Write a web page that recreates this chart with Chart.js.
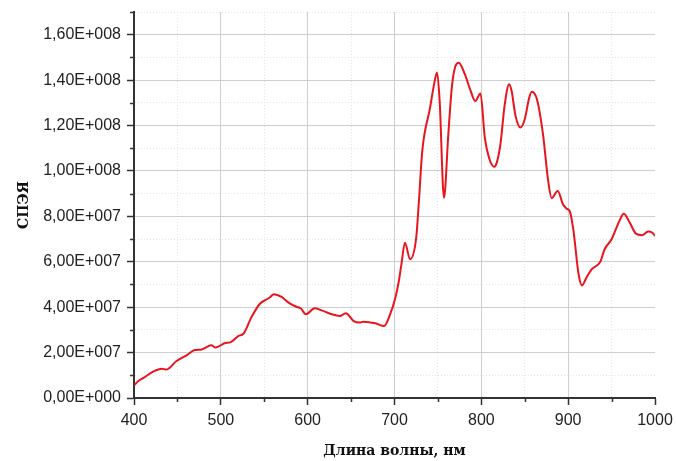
<!DOCTYPE html>
<html>
<head>
<meta charset="utf-8">
<script src="https://cdn.jsdelivr.net/npm/chart.js@4/dist/chart.umd.min.js"></script>
<style>
  html, body { margin: 0; padding: 0; background: #fff; }
  #wrap { width: 676px; height: 461px; }
</style>
</head>
<body>
<div id="wrap"><canvas id="spectrum"></canvas></div>
<script>
// wavelengths (nm)
const wavelengths = [400, 405, 411, 422, 432, 437, 449, 461, 470, 478, 489, 494, 505, 511, 520, 526, 535, 545, 553, 557, 561, 570, 578, 587, 592, 598, 608, 616, 626, 637, 644, 653, 660, 664, 678, 688, 695, 701, 705, 708, 712, 718, 725, 728, 732, 741, 746, 749, 752, 757, 762, 766, 770, 774, 781, 787, 793, 799, 804, 809, 815, 818, 822, 827, 832, 835, 839, 845, 850, 855, 858, 864, 871, 877, 881, 888, 894, 898, 902, 906, 912, 916, 921, 927, 937, 942, 950, 959, 964, 971, 978, 985, 992, 997, 1000];
// СПЭЯ values
const spectrum = [0.55e7, 0.75e7, 0.89e7, 1.16e7, 1.29e7, 1.25e7, 1.63e7, 1.89e7, 2.11e7, 2.14e7, 2.32e7, 2.22e7, 2.42e7, 2.45e7, 2.73e7, 2.83e7, 3.54e7, 4.15e7, 4.35e7, 4.45e7, 4.57e7, 4.45e7, 4.20e7, 4.02e7, 3.95e7, 3.69e7, 3.95e7, 3.86e7, 3.71e7, 3.61e7, 3.73e7, 3.39e7, 3.32e7, 3.36e7, 3.29e7, 3.17e7, 3.69e7, 4.42e7, 5.15e7, 5.90e7, 6.84e7, 6.11e7, 7.06e7, 8.60e7, 10.88e7, 12.79e7, 13.90e7, 14.33e7, 13.08e7, 8.82e7, 11.62e7, 13.67e7, 14.60e7, 14.77e7, 14.26e7, 13.60e7, 13.08e7, 13.41e7, 11.47e7, 10.56e7, 10.18e7, 10.40e7, 11.18e7, 12.94e7, 13.82e7, 13.50e7, 12.50e7, 11.91e7, 12.28e7, 13.20e7, 13.49e7, 13.16e7, 11.62e7, 9.56e7, 8.80e7, 9.12e7, 8.53e7, 8.35e7, 8.21e7, 7.40e7, 5.45e7, 4.96e7, 5.30e7, 5.67e7, 6.00e7, 6.55e7, 6.99e7, 7.80e7, 8.12e7, 7.72e7, 7.24e7, 7.17e7, 7.33e7, 7.28e7, 7.14e7];

const xMin = 400, xMax = 1000, xMajor = 100, xMinor = 50;
const yMin = 0, yMax = 1.7e8, yMajor = 2e7, yMinor = 1e7;

// 1,60E+008 style labels
function sciLabel(v) {
  if (v === 0) return '0,00E+000';
  let e = Math.floor(Math.log10(Math.abs(v)));
  let m = v / Math.pow(10, e);
  if (Math.round(m * 100) >= 1000) { m = m / 10; e++; }
  return m.toFixed(2).replace('.', ',') + 'E+' + String(e).padStart(3, '0');
}

function isMajor(v, step) {
  return Math.abs(v / step - Math.round(v / step)) < 1e-6;
}

// no automatic label padding, the layout padding decides the plot box
function noPad(s) {
  s.paddingLeft = 0;
  s.paddingRight = 0;
  s.paddingTop = 0;
  s.paddingBottom = 0;
}

// short minor tick marks on the axes
const minorTicks = {
  id: 'minorTicks',
  afterDraw(chart) {
    const c = chart.ctx;
    const xs = chart.scales.x, ys = chart.scales.y;
    const area = chart.chartArea;
    c.save();
    c.strokeStyle = '#333';
    c.lineWidth = 1.5;
    c.beginPath();
    for (let v = xMin; v <= xMax; v += xMinor) {
      if (isMajor(v, xMajor)) continue;
      const px = Math.round(xs.getPixelForValue(v)) + 0.5;
      c.moveTo(px, area.bottom);
      c.lineTo(px, area.bottom + 4);
    }
    for (let v = yMin; v <= yMax + 1; v += yMinor) {
      if (isMajor(v, yMajor)) continue;
      const py = Math.round(ys.getPixelForValue(v)) + 0.5;
      c.moveTo(area.left, py);
      c.lineTo(area.left - 4, py);
    }
    c.stroke();
    c.restore();
  }
};

const tickFont = { family: 'Liberation Sans, Arial, sans-serif', size: 16 };
const titleFont = { family: 'DejaVu Serif, serif', size: 14, weight: 'bold' };

let ctx = document.getElementById('spectrum');

const myChart = new Chart(ctx, {
  type: 'line',
  data: {
    datasets: [{
      label: 'СПЭЯ',
      data: wavelengths.map((w, i) => ({ x: w, y: spectrum[i] })),
      borderColor: '#e8141e',
      borderWidth: 2,
      pointRadius: 0,
      fill: false,
      cubicInterpolationMode: 'monotone'
    }]
  },
  options: {
    responsive: true,
    maintainAspectRatio: false,
    animation: false,
    layout: { autoPadding: false, padding: { left: 10, right: 21, top: 12, bottom: 1 } },
    plugins: {
      legend: { display: false },
      tooltip: { enabled: false }
    },
    scales: {
      x: {
        type: 'linear',
        min: xMin,
        max: xMax,
        afterFit: (s) => { s.height = 62; noPad(s); },
        ticks: {
          stepSize: xMinor,
          autoSkip: false,
          maxRotation: 0,
          padding: 6,
          color: '#222',
          font: tickFont,
          callback: (v) => isMajor(v, xMajor) ? String(v) : ''
        },
        grid: {
          color: (c) => {
            if (!c.tick || c.tick.value === xMax) return 'rgba(0,0,0,0)';
            return isMajor(c.tick.value, xMajor) ? '#cfcfcf' : '#e6e6e6';
          },
          lineWidth: 1,
          tickLength: 7,
          tickWidth: 1.5,
          tickColor: (c) => c.tick && isMajor(c.tick.value, xMajor) ? '#333' : 'rgba(0,0,0,0)'
        },
        border: {
          color: '#333',
          width: 2,
          dash: (c) => c.tick && !isMajor(c.tick.value, xMajor) ? [1, 2] : []
        },
        title: {
          display: true,
          text: 'Длина волны, нм',
          color: '#111',
          font: titleFont,
          padding: { top: 0, bottom: 0 }
        }
      },
      y: {
        type: 'linear',
        min: yMin,
        max: yMax,
        afterFit: (s) => { s.width = 124; noPad(s); },
        ticks: {
          stepSize: yMinor,
          autoSkip: false,
          padding: 6,
          color: '#222',
          font: tickFont,
          callback: (v) => isMajor(v, yMajor) ? sciLabel(v) : ''
        },
        grid: {
          color: (c) => {
            if (!c.tick) return 'rgba(0,0,0,0)';
            return isMajor(c.tick.value, yMajor) ? '#cfcfcf' : '#e6e6e6';
          },
          lineWidth: 1,
          tickLength: 7,
          tickWidth: 1.5,
          tickColor: (c) => c.tick && isMajor(c.tick.value, yMajor) ? '#333' : 'rgba(0,0,0,0)'
        },
        border: {
          color: '#333',
          width: 2,
          dash: (c) => c.tick && !isMajor(c.tick.value, yMajor) ? [1, 2] : []
        },
        title: {
          display: true,
          text: 'СПЭЯ',
          color: '#111',
          font: titleFont,
          padding: { top: 6, bottom: 0 }
        }
      }
    }
  },
  plugins: [minorTicks]
});
</script>
</body>
</html>
